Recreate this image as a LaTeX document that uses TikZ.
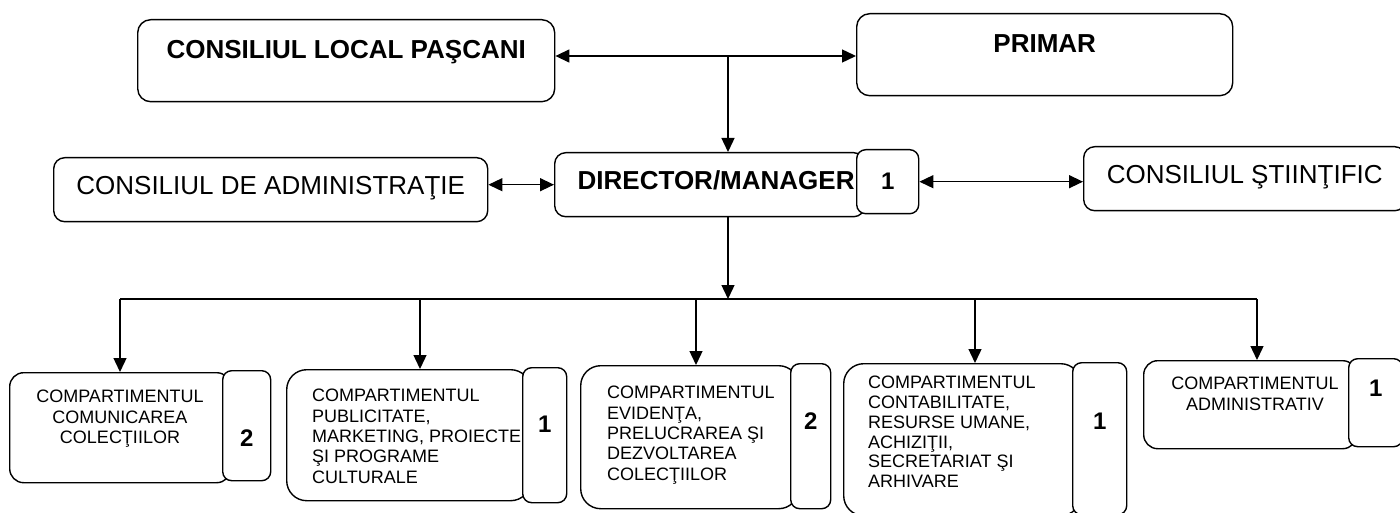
\documentclass[tikz,border=0pt]{standalone}
\usepackage{fontspec}
\setmainfont{Liberation Sans}
\usetikzlibrary{positioning,arrows.meta,calc}

\begin{document}
\begin{tikzpicture}[
  x=1pt, y=-1pt,
  >={Triangle[length=14pt,width=13pt]},
  box/.style={draw, line width=1.4pt, inner xsep=4pt, inner ysep=0pt},
  topbox/.style={box, rounded corners=13pt, anchor=north west,
    font=\fontsize{26}{30}\selectfont\bfseries, text height=39pt, text depth=43pt},
  midbox/.style={box, rounded corners=11pt, anchor=north west,
    font=\fontsize{26}{30}\selectfont, text height=37pt, text depth=27pt},
  dept/.style={box, rounded corners=20pt, anchor=north west},
  nrbox/.style={box, rounded corners=9pt, fill=white, anchor=north west,
    font=\fontsize{24}{28}\selectfont\bfseries},
  depttext/.style={inner sep=0pt, font=\fontsize{18}{20.4}\selectfont},
  arr/.style={->, line width=1.4pt},
  darr/.style={<->, line width=1.4pt}
]
\path[use as bounding box, fill=white] (0,0) rectangle (1400,513);

% upper levels
\node[topbox, minimum width=417pt] (consiliu) at (137,19) {CONSILIUL LOCAL PAŞCANI};
\node[topbox, minimum width=376pt] (primar) at (856,13) {PRIMAR};
\node[midbox, minimum width=434pt] (admin) at (53,157) {CONSILIUL DE ADMINISTRAŢIE};
\node[midbox, font=\fontsize{26}{30}\selectfont\bfseries, text width=264pt,
  inner xsep=23pt, align=left] (director) at (554,152) {DIRECTOR/MANAGER};
\node[nrbox, minimum width=62pt, text height=39.6pt, text depth=24.4pt] (dirnr) at (856,149) {1};
\node[midbox, minimum width=322pt] (stiintific) at (1083,146) {CONSILIUL ŞTIINŢIFIC};

% compartments
\node[dept, rounded corners=14pt, minimum width=221pt, minimum height=110pt] (c1) at (9,372) {};
\node[nrbox, minimum width=48pt, text height=75.6pt, text depth=34.4pt] (s1) at (222,370) {2};
\node[depttext, align=center, anchor=north] (c1t) at (120,390) {COMPARTIMENTUL\\COMUNICAREA\\COLECŢIILOR};

\node[dept, minimum width=244pt, minimum height=131pt] (c2) at (286,369) {};
\node[nrbox, minimum width=44pt, text height=64.6pt, text depth=70.4pt] (s2) at (522,367) {1};
\node[depttext, align=left, anchor=north west] (c2t) at (312,389)
  {COMPARTIMENTUL\\PUBLICITATE,\\MARKETING, PROIECTE\\ŞI PROGRAME\\CULTURALE};

\node[dept, minimum width=218pt, minimum height=143pt] (c3) at (580,365) {};
\node[nrbox, minimum width=40pt, text height=65.6pt, text depth=79.4pt] (s3) at (790,363) {2};
\node[depttext, align=left, anchor=north west] (c3t) at (607,386)
  {COMPARTIMENTUL\\EVIDENŢA,\\PRELUCRAREA ŞI\\DEZVOLTAREA\\COLECŢIILOR};

\node[dept, minimum width=237pt, minimum height=152pt] (c4) at (843,363) {};
\node[nrbox, minimum width=54pt, text height=66.6pt, text depth=85.4pt] (s4) at (1072,362) {1};
\node[depttext, align=left, anchor=north west, font=\fontsize{18}{19.8}\selectfont] (c4t) at (868,376)
  {COMPARTIMENTUL\\CONTABILITATE,\\RESURSE UMANE,\\ACHIZIŢII,\\SECRETARIAT ŞI\\ARHIVARE};

\node[dept, rounded corners=14pt, minimum width=213pt, minimum height=88pt] (c5) at (1143,360) {};
\node[nrbox, minimum width=54pt, text height=37.6pt, text depth=50.4pt] (s5) at (1348,358) {1};
\node[depttext, align=center, anchor=north] (c5t) at (1255,377) {COMPARTIMENTUL\\ADMINISTRATIV};

% connectors
\coordinate (top) at (728,56);
\coordinate (bus) at (728,299);
\coordinate (j1) at (120,299);
\coordinate (j2) at (420,299);
\coordinate (j3) at (696,299);
\coordinate (j4) at (975,299);
\coordinate (j5) at (1257,299);
\draw[darr] (consiliu.east |- top) -- (primar.west |- top);
\draw[arr] (top) -- (top |- director.north);
\draw[darr] (admin.east |- director.west) -- (director.west);
\draw[darr] (dirnr.east) -- (dirnr.east -| stiintific.west);
\draw[arr] (bus |- director.south) -- (bus);
\draw[line width=1.4pt] (j1) -- (j5);
\draw[arr] (j1) -- (j1 |- c1.north);
\draw[arr] (j2) -- (j2 |- c2.north);
\draw[arr] (j3) -- (j3 |- c3.north);
\draw[arr] (j4) -- (j4 |- c4.north);
\draw[arr] (j5) -- (j5 |- c5.north);
\end{tikzpicture}
\end{document}
